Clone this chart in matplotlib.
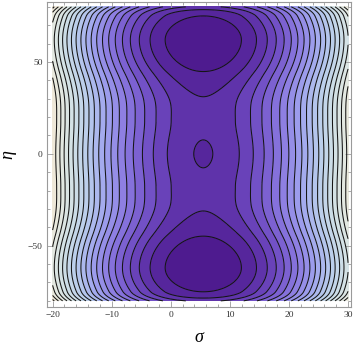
import numpy as np
import matplotlib
matplotlib.use("Agg")
import matplotlib.pyplot as plt
from matplotlib.colors import LinearSegmentedColormap, Normalize

# ---- data ----
SIGMA_RANGE = (-20, 30)
ETA_RANGE = (-80, 80)
SIGMA_CENTER = 5.5
# potential profile along the valley floor (sigma = SIGMA_CENTER), symmetric in eta
ETA_KNOTS = [0, 7.6, 18, 30.6, 44.7, 62, 75, 80]
B_VALUES = [-2.6, 0, 5, 0, -42, -84, -47, 20]
B_SLOPES = [0, 0.6, 0, -1.6, -4.2, 0, 5.5, 21]
WELL_ETA = 62
WELL_BUMP = 22
WELL_W_ETA = 12
WELL_W_SIGMA = 4.5
CONTOUR_STEP = 34.5
LEVEL_K = list(range(-2, 22))
X_TICKS = [-20, -10, 0, 10, 20, 30]
Y_TICKS = [-50, 0, 50]
# colour anchors given at potential values
CMAP_VALS = [-69, 0, 69, 172, 276, 380, 483, 586, 655]
CMAP_COLS = ["#4a1689", "#5a2ca2", "#6e4ac2", "#8a78e0", "#a0a4ee",
             "#b8ccec", "#d0e0e6", "#e6eae0", "#f0e8d6"]


def hermite(x, xs, ys, ms):
    xs = np.asarray(xs, float); ys = np.asarray(ys, float); ms = np.asarray(ms, float)
    i = np.clip(np.searchsorted(xs, x) - 1, 0, len(xs) - 2)
    h = xs[i + 1] - xs[i]
    t = (x - xs[i]) / h
    h00 = 2 * t**3 - 3 * t**2 + 1
    h10 = t**3 - 2 * t**2 + t
    h01 = -2 * t**3 + 3 * t**2
    h11 = t**3 - t**2
    return h00 * ys[i] + h10 * h * ms[i] + h01 * ys[i + 1] + h11 * h * ms[i + 1]


s = np.linspace(SIGMA_RANGE[0], SIGMA_RANGE[1], 400)
e = np.linspace(ETA_RANGE[0], ETA_RANGE[1], 600)
S, E = np.meshgrid(s, e)
D2 = (S - SIGMA_CENTER) ** 2
AE = np.abs(E)
V = (D2 + hermite(AE, ETA_KNOTS, B_VALUES, B_SLOPES)
     + WELL_BUMP * np.exp(-(AE - WELL_ETA) ** 2 / (2 * WELL_W_ETA ** 2))
     * np.exp(-D2 / (2 * WELL_W_SIGMA ** 2)))

levels = np.array(LEVEL_K) * CONTOUR_STEP
vmin, vmax = CMAP_VALS[0], CMAP_VALS[-1]
pos = [(v - vmin) / (vmax - vmin) for v in CMAP_VALS]
cmap = LinearSegmentedColormap.from_list("mma", list(zip(pos, CMAP_COLS)))

fig = plt.figure(figsize=(3.54, 3.47), dpi=100)
ax = fig.add_axes([47 / 354, 1 - 307.3 / 347, 304 / 354, 305.6 / 347])
ax.contourf(S, E, V, levels=levels, cmap=cmap, norm=Normalize(vmin, vmax))
ax.contour(S, E, V, levels=levels[1:], colors="#151515", linewidths=0.75,
           linestyles="solid")

ax.set_xlim(-20.95, 30.5)
ax.set_ylim(-83.5, 82.8)
ax.set_xticks(X_TICKS)
ax.set_yticks(Y_TICKS)
ax.set_xticks(np.arange(-20, 31, 2), minor=True)
ax.set_yticks(np.arange(-80, 81, 10), minor=True)
ax.set_xticklabels([f"{v}".replace("-", "\u2212") for v in X_TICKS])
ax.set_yticklabels([f"{v}".replace("-", "\u2212") for v in Y_TICKS])
for sp in ax.spines.values():
    sp.set_color("#9a9a9a")
    sp.set_linewidth(0.8)
ax.tick_params(which="both", direction="in", top=True, right=True,
               color="#9a9a9a", width=0.6)
ax.tick_params(which="major", length=4, pad=3, labelsize=6.8, labelcolor="#333333")
ax.tick_params(which="minor", length=2)
for lab in ax.get_xticklabels() + ax.get_yticklabels():
    lab.set_fontfamily("Liberation Serif")

ax.set_xlabel("σ", fontsize=13, fontfamily="Liberation Serif", style="italic", labelpad=7)
ax.set_ylabel("η", fontsize=13, fontfamily="Liberation Serif", style="italic", labelpad=8)

fig.savefig("out.png", dpi=100)
